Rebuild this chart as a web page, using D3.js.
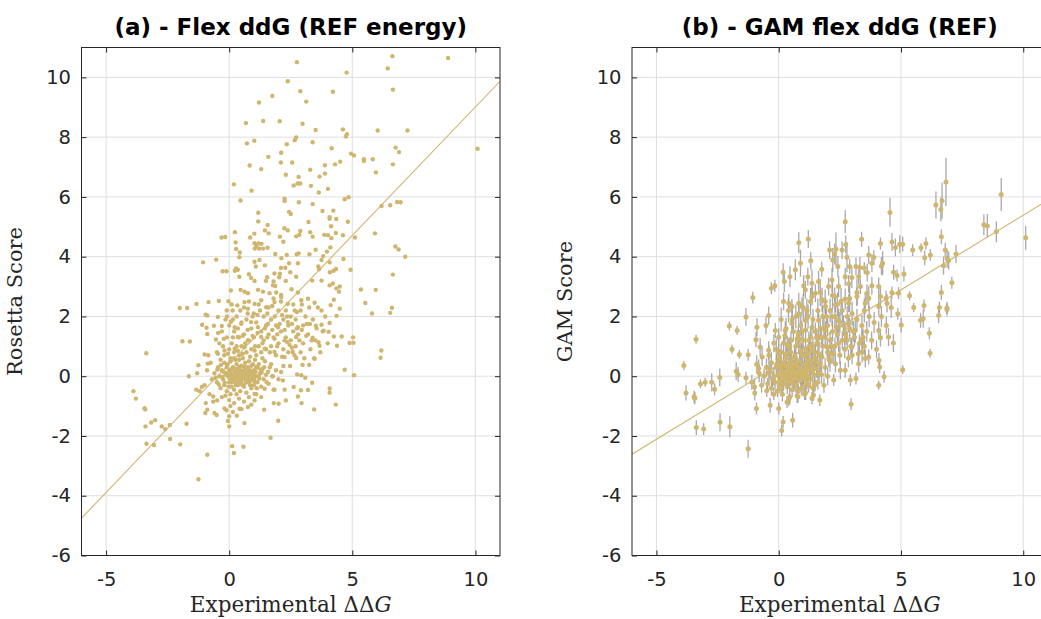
<!DOCTYPE html>
<html>
<head>
<meta charset="utf-8">
<script src="https://cdn.jsdelivr.net/npm/d3@7"></script>
<style>
  html, body { margin: 0; padding: 0; background: #fff; }
  svg { display: block; }
</style>
</head>
<body>
<svg id="fig" width="1041" height="619"></svg>
<script>
// ---- data -----------------------------------------------------------------
const xTicks = [-5, 0, 5, 10];
const yTicks = [-6, -4, -2, 0, 2, 4, 6, 8, 10];
const titles = ["(a) - Flex ddG (REF energy)", "(b) - GAM flex ddG (REF)"];
const yLabels = ["Rosetta Score", "GAM Score"];

// linear fits: [slope, intercept]
const fitA = [0.86, 0.41];
const fitB = [0.50, 0.39];

// panel (a): experimental ddG vs Rosetta score
const pointsA = [
[2.75,10.51],[6.63,10.71],[8.89,10.65],[6.44,10.30],[4.77,10.16],[2.38,9.87],[6.65,9.59],[2.89,9.54],[4.21,9.52],[1.75,9.38],
[1.21,9.16],[3.13,9.19],[1.38,8.54],[2.05,8.53],[0.68,8.47],[2.98,8.45],[3.51,8.24],[4.62,8.26],[6.03,8.22],[7.24,8.22],
[4.78,8.10],[4.74,8.02],[2.72,7.99],[2.66,7.90],[1.02,7.88],[0.72,7.79],[3.39,7.83],[2.34,7.76],[4.16,7.63],[6.76,7.65],
[6.90,7.50],[10.09,7.61],[2.11,7.48],[1.59,7.34],[4.95,7.45],[5.07,7.39],[5.47,7.26],[5.47,7.20],[5.83,7.26],[2.10,7.15],
[2.56,7.15],[3.89,7.06],[4.30,7.09],[4.51,7.18],[0.83,7.05],[1.30,6.93],[6.65,7.09],[3.29,6.91],[5.96,6.82],[2.30,6.74],
[3.89,6.78],[3.67,6.68],[2.82,6.67],[0.19,6.42],[2.62,6.38],[2.78,6.45],[2.89,6.45],[3.32,6.37],[4.01,6.27],[3.64,6.15],
[0.91,6.21],[4.69,5.92],[4.85,5.99],[2.25,5.94],[2.25,5.86],[0.46,5.88],[2.83,5.82],[3.39,5.76],[6.19,5.70],[6.54,5.72],
[6.82,5.83],[6.96,5.82],[2.43,5.50],[2.50,5.43],[3.79,5.53],[4.23,5.54],[1.18,5.47],[4.08,5.32],[4.08,5.27],[4.35,5.26],
[3.22,5.16],[4.82,5.17],[1.18,5.18],[1.56,5.06],[4.14,5.02],[2.24,4.95],[2.38,4.88],[1.45,4.88],[2.89,4.86],[1.02,4.77],
[1.60,4.78],[3.29,4.82],[0.23,4.82],[2.85,4.73],[2.72,4.68],[3.39,4.67],[3.86,4.73],[4.01,4.72],[4.15,4.62],[4.33,4.79],
[4.62,4.72],[5.11,4.64],[5.92,4.78],[2.06,4.67],[0.85,4.64],[-0.31,4.64],[-0.16,4.66],[0.26,4.48],[2.20,4.50],[1.03,4.45],
[1.10,4.36],[1.19,4.44],[1.31,4.43],[1.04,4.27],[1.22,4.27],[1.38,4.27],[1.56,4.30],[0.28,4.26],[0.43,4.14],[6.75,4.34],
[6.88,4.24],[7.15,4.00],[3.51,4.23],[3.97,4.17],[4.11,4.31],[2.74,4.08],[2.82,4.11],[3.26,4.08],[1.87,4.09],[2.34,4.06],
[2.12,3.95],[0.41,3.98],[3.82,4.02],[3.75,3.89],[4.64,3.92],[1.03,3.83],[1.23,3.89],[-1.06,3.81],[-0.53,3.90],[2.79,3.78],
[2.43,3.78],[4.08,3.81],[1.45,3.71],[1.08,3.67],[2.10,3.62],[2.28,3.63],[3.62,3.67],[3.65,3.58],[0.28,3.61],[0.23,3.53],
[0.35,3.56],[-0.27,3.51],[-0.11,3.51],[1.84,3.44],[2.06,3.43],[2.48,3.48],[0.80,3.41],[4.09,3.48],[4.24,3.53],[4.34,3.59],
[4.93,3.56],[6.65,3.40],[1.54,3.31],[2.03,3.31],[2.72,3.33],[0.41,3.33],[0.89,3.29],[1.03,3.19],[1.49,3.19],[1.80,3.17],
[2.30,3.19],[3.37,3.20],[3.75,3.20],[1.78,3.04],[1.87,3.02],[4.08,3.04],[4.21,3.10],[2.53,2.91],[4.35,2.94],[4.49,3.00],
[4.46,2.83],[5.35,2.90],[5.95,2.89],[0.07,2.87],[0.46,2.89],[0.62,2.83],[0.76,2.78],[1.17,2.89],[1.37,2.83],[1.64,2.78],
[1.91,2.80],[2.11,2.72],[2.79,2.80],
[-2.01,2.28],[-1.71,2.28],[-1.33,2.42],[-0.84,2.48],[-0.42,2.52],[-0.03,2.51],[-0.96,2.06],[-0.89,2.03],[-0.46,1.98],[-0.09,2.00],
[0.14,2.20],[0.33,2.37],[0.62,2.48],[0.76,2.26],[1.03,2.42],[1.30,2.54],[1.50,2.31],[1.84,2.48],[2.11,2.65],[2.38,2.42],
[2.66,2.20],[2.93,2.54],[3.20,2.59],[3.47,2.46],[3.75,2.20],[4.12,2.38],[4.25,2.56],[4.49,2.26],[5.53,2.45],[5.80,2.10],
[6.54,2.12],[6.61,2.29],[-1.10,1.72],[-0.92,1.62],[-0.62,1.69],[-0.30,1.68],[0.07,1.82],[0.22,1.64],[0.49,1.75],[0.89,1.81],
[1.17,1.64],[1.57,1.75],[1.98,1.64],[2.38,1.81],[2.79,1.64],[3.28,1.75],[3.52,1.69],[3.75,1.72],[4.08,1.78],[4.36,2.02],
[-0.89,1.41],[-0.54,1.23],[-0.22,1.25],[0.35,1.31],[0.76,1.20],[1.30,1.31],[1.84,1.25],[2.25,1.20],[2.72,1.31],[3.13,1.35],
[3.39,1.29],[3.63,1.14],[3.67,1.02],[3.84,1.52],[4.04,1.49],[4.25,1.33],[4.57,1.33],[4.38,1.02],[4.89,1.11],[5.03,1.30],
[5.05,1.12],[-1.90,1.17],[-1.60,1.16],[6.18,0.86],[6.15,0.62],[-3.37,0.77],[-1.00,0.73],[-1.25,0.37],[-0.87,0.42],[-0.46,0.75],
[-0.19,0.86],[0.22,0.92],[0.62,0.97],[1.03,0.86],[1.44,0.92],[1.84,0.81],[2.25,0.64],[2.58,0.81],[2.72,0.61],[2.20,0.34],
[2.47,0.34],[2.98,0.38],[3.25,0.38],[3.47,0.58],[2.11,0.14],[2.76,0.06],[2.93,0.03],[3.09,-0.05],[3.37,-0.22],[1.77,0.00],
[2.18,-0.14],[4.69,0.22],[5.07,0.03],[-1.64,0.00],[-1.34,-0.45],[-1.11,-0.36],[-3.89,-0.50],[-3.79,-0.75],[-3.44,-1.07],[-3.41,-1.11],
[-3.40,-1.68],[-3.17,-1.55],[-3.01,-1.47],[-2.74,-1.68],[-2.60,-1.77],[-2.41,-1.63],[-2.40,-2.10],[-3.36,-2.26],[-3.06,-2.30],[-1.99,-2.28],
[-1.73,-1.59],[-0.89,-2.63],[-1.25,-3.45],[-0.97,-1.23],[-0.89,-1.12],[-0.60,-1.23],[-0.51,-1.30],[-0.65,-0.68],[-0.49,-0.81],[-0.19,-1.08],
[-0.11,-1.14],[0.00,-1.34],[0.00,-1.68],[0.31,-1.32],[0.42,-1.09],[0.62,-1.57],[0.12,-2.34],[0.19,-2.57],[0.58,-2.36],[1.68,-2.06],
[1.99,-1.49],[1.42,-1.12],[1.81,-0.90],[2.01,-0.92],[2.30,-0.81],[2.62,-0.36],[2.91,-0.47],[2.94,-0.90],[3.45,-1.11],[3.20,-0.46],
[4.08,-0.41],[4.08,-0.55],[4.33,-0.95],[2.79,-0.68],[1.03,-0.59],[0.76,-1.03],[1.03,-0.81],[1.44,-0.42],[1.84,-0.45],[2.25,-0.45],
// dense core near the origin
[-0.6,0.1],[-0.5,-0.2],[-0.45,0.3],[-0.4,0.0],[-0.35,-0.4],[-0.3,0.2],[-0.25,-0.1],[-0.2,0.45],[-0.2,-0.3],[-0.15,0.1],
[-0.1,-0.5],[-0.1,0.3],[-0.05,0.0],[0,-0.2],[0,0.2],[0.05,0.5],[0.05,-0.6],[0.1,0.05],[0.1,-0.35],[0.15,0.3],
[0.15,-0.1],[0.2,0.6],[0.2,-0.45],[0.25,0.15],[0.25,-0.2],[0.3,0.4],[0.3,0.0],[0.35,-0.3],[0.35,0.25],[0.4,-0.05],
[0.4,0.55],[0.45,-0.5],[0.45,0.1],[0.5,0.35],[0.5,-0.15],[0.55,0.0],[0.55,0.6],[0.6,-0.35],[0.6,0.2],[0.65,0.45],
[0.65,-0.1],[0.7,0.05],[0.7,-0.55],[0.75,0.3],[0.8,-0.2],[0.8,0.5],[0.85,0.1],[0.9,-0.4],[0.9,0.35],[0.95,-0.05],
[1.0,0.2],[1.0,-0.3],[1.05,0.55],[1.1,0.0],[1.15,-0.2],[1.2,0.4],[1.25,0.1],[1.3,-0.35],[1.35,0.25],[1.4,-0.1],
[1.45,0.5],[1.5,0.05],[1.6,-0.25],[1.65,0.3],[1.75,0.0],[1.8,-0.45],[1.9,0.2],[2.0,-0.1],
[-0.55,-0.05],[-0.48,0.22],[-0.42,-0.28],[-0.33,0.38],[-0.28,-0.02],[-0.22,0.15],[-0.18,-0.22],[-0.12,0.05],[-0.08,0.4],[-0.03,-0.35],
[0.02,0.1],[0.07,-0.12],[0.12,0.25],[0.17,-0.05],[0.22,0.12],[0.27,-0.3],[0.32,0.18],[0.37,-0.08],[0.42,0.3],[0.47,-0.25],
[0.52,0.15],[0.57,-0.05],[0.62,0.32],[0.67,-0.22],[0.72,0.12],[0.77,-0.08],[0.82,0.22],[0.87,-0.15],[0.92,0.08],[0.97,0.4],
[1.02,-0.12],[1.07,0.15],[1.12,-0.4],[1.17,0.28],[1.22,-0.08],[1.32,0.12],[1.42,0.3],[1.52,-0.2],[1.58,0.15],[1.7,0.4],
[-0.05,0.08],[0.0,-0.05],[0.05,0.15],[0.1,-0.2],[0.15,0.0],[0.2,0.25],[0.25,-0.08],[0.3,0.1],[0.35,0.05],[0.4,-0.18],
[0.45,0.2],[0.5,0.0],[0.55,-0.3],[0.6,0.08],[0.65,0.2],[0.7,-0.12],[0.75,0.02],[0.8,0.15],[0.85,-0.3],[0.9,0.0],
[0.95,0.18],[1.0,0.05],[1.05,-0.2],[1.1,0.3],[1.2,0.0],[1.3,0.2],
[-0.3,-0.7],[0.0,-0.8],[0.2,-0.9],[0.4,-0.75],[0.6,-0.85],[0.8,-0.7],[1.1,-0.6],[0.05,-1.0],[0.3,-0.6],[-0.15,-0.65],
[0.9,-0.95],[1.3,-0.7],[0.5,-1.1],[0.15,-1.2],[-0.05,-1.5],
[-1.0,-0.3],[-0.8,-0.6],[-0.9,0.2],[-0.7,-0.1],[-0.75,0.45],[-0.95,-0.9],[-1.2,-0.5],[-0.65,-0.85],[-0.85,0.7],[-1.3,0.1],
// band along the fit
[-0.5,0.8],[-0.4,1.1],[-0.3,1.5],[-0.2,0.7],[-0.1,1.3],[-0.1,2.2],[0.0,0.9],[0.0,1.7],[0.1,1.1],[0.1,2.4],
[0.2,0.8],[0.2,1.5],[0.3,1.0],[0.3,2.0],[0.4,1.3],[0.4,0.7],[0.5,1.8],[0.5,1.0],[0.6,2.3],[0.6,1.4],
[0.7,0.8],[0.7,1.9],[0.8,1.2],[0.8,2.5],[0.9,1.6],[0.9,0.9],[1.0,2.1],[1.0,1.3],[1.1,0.7],[1.1,1.8],
[1.2,1.0],[1.2,2.4],[1.3,1.5],[1.3,0.8],[1.4,2.0],[1.4,1.2],[1.5,1.7],[1.5,0.9],[1.6,2.3],[1.6,1.4],
[1.7,1.0],[1.7,1.9],[1.8,1.3],[1.8,2.6],[1.9,1.7],[1.9,0.7],[2.0,2.2],[2.0,1.1],[2.1,1.5],[2.1,2.5],
[2.2,1.9],[2.2,0.9],[2.3,1.3],[2.3,2.2],[2.4,1.7],[2.4,0.8],[2.5,2.0],[2.5,1.2],[2.6,1.5],[2.6,2.4],
[2.7,1.0],[2.7,1.9],[2.8,1.4],[2.9,2.2],[2.9,0.8],[3.0,1.7],[3.0,1.1],[3.1,2.0],[3.2,1.4],[3.3,0.9],
[3.4,1.9],[3.5,1.2],[3.6,2.3],[3.7,0.8],[3.8,1.5],[3.9,2.0],[4.0,1.1],
[0.05,0.6],[0.15,1.9],[0.25,0.55],[0.35,1.6],[0.45,2.2],[0.55,0.75],[0.65,1.1],[0.75,1.55],[0.85,0.65],[0.95,2.0],
[1.05,1.0],[1.15,1.45],[1.25,2.2],[1.35,0.6],[1.45,1.6],[1.55,2.1],[1.65,0.8],[1.75,1.55],[1.85,2.0],[1.95,1.0],
[2.05,1.75],[2.15,0.65],[2.25,1.55],[2.35,2.0],[2.45,1.05],[2.55,1.75],[2.65,0.7],[2.75,2.15],[2.85,1.2],[2.95,1.55],
[3.05,0.6],[3.15,1.75],[3.25,2.3],[3.35,1.2],[3.45,0.6],[3.55,1.6],[-0.35,0.55],[-0.25,1.0],[-0.15,1.9],[-0.45,1.45],
[-0.05,0.75],[0.15,1.3],[0.35,0.85],[0.55,1.35],[0.75,2.1],[0.95,1.35],[1.15,2.05],[1.35,1.1],[1.55,1.3],[1.75,2.35],
[1.95,1.4],[2.15,2.05],[2.35,1.15],[2.55,0.95],[2.75,1.6],[2.95,2.4]
];

// panel (b): experimental ddG vs GAM score, with error half-widths
const pointsB = [
[6.84,6.50,0.80],[9.10,6.08,0.55],[6.43,5.73,0.45],[6.68,5.87,0.60],[6.63,5.58,0.40],[4.55,5.48,0.48],[2.72,5.17,0.38],[8.39,5.07,0.35],[8.53,5.03,0.40],[8.90,4.83,0.35],
[10.10,4.63,0.40],[0.82,4.47,0.35],[1.21,4.59,0.30],[3.39,4.58,0.25],[4.16,4.44,0.20],[4.63,4.49,0.30],[4.95,4.42,0.30],[5.07,4.42,0.25],[4.77,4.31,0.30],[5.48,4.22,0.20],
[5.82,4.30,0.15],[6.02,4.44,0.20],[5.97,3.96,0.25],[6.20,4.06,0.20],[6.65,4.67,0.25],[6.81,4.22,0.25],[7.25,4.09,0.30],[6.89,3.93,0.30],[6.95,3.87,0.30],[6.74,3.70,0.30],
[7.08,3.13,0.20],[6.65,2.80,0.25],[6.57,2.30,0.20],[6.88,2.28,0.20],[5.94,2.37,0.20],[5.52,2.30,0.15],[5.35,2.69,0.15],[5.12,3.42,0.25],[4.84,3.37,0.20],[4.70,3.48,0.25],
[4.90,2.78,0.20],[4.63,2.80,0.20],[-1.06,2.63,0.20],[-0.30,2.94,0.20],[-0.16,3.03,0.20],[0.18,3.48,0.30],[0.23,3.17,0.35],[0.46,3.33,0.35],[0.68,3.56,0.35],[0.89,3.78,0.45],
[1.31,3.86,0.30],[1.19,3.33,0.30],[1.76,3.58,0.25],[2.08,4.22,0.30],[2.29,4.09,0.35],[2.34,4.26,0.55],[2.59,4.22,0.30],[2.74,4.41,0.30],[2.79,3.98,0.50],[2.21,3.89,0.40],
[2.42,3.67,0.35],[2.90,3.67,0.25],[3.16,3.67,0.30],[3.32,3.64,0.35],[3.50,3.62,0.20],[3.68,4.06,0.30],[3.89,3.97,0.25],[3.81,3.78,0.30],[4.25,3.78,0.40],[4.20,3.69,0.30],
[3.62,3.47,0.30],[3.27,3.33,0.25],[2.99,3.30,0.35],[2.72,3.33,0.30],[2.18,3.22,0.40],[2.04,3.00,0.30],[2.45,3.00,0.35],[2.86,3.09,0.30],[3.34,3.00,0.25],[3.81,3.03,0.30],
[4.09,3.00,0.30],[4.16,2.67,0.30],[4.39,2.61,0.25],[3.61,2.78,0.30],[3.68,2.61,0.40],[3.20,2.67,0.30],[2.72,2.58,0.35],[2.29,2.67,0.30],[1.77,2.56,0.40],[1.36,2.67,0.30],
[1.02,3.03,0.35],[1.09,2.89,0.30],[1.36,3.11,0.45],[1.50,2.78,0.30],[1.63,3.17,0.35],[0.41,2.44,0.30],[0.54,2.33,0.25],[0.20,2.50,0.30],[0.82,2.44,0.35],[0.95,2.33,0.30],
[1.91,2.33,0.30],[2.32,2.39,0.25],[2.86,2.44,0.30],[3.54,2.44,0.35],[4.09,2.33,0.30],[4.43,2.44,0.30],
[-1.34,1.98,0.30],[-2.02,1.68,0.15],[-1.70,1.53,0.15],[-3.38,1.24,0.15],[-1.91,0.90,0.15],[-1.61,0.73,0.15],[-1.25,0.72,0.20],[-3.88,0.36,0.15],[-1.74,0.17,0.30],[-1.66,0.06,0.25],
[-1.34,-0.05,0.20],[-2.41,-0.04,0.30],[-2.74,-0.20,0.30],[-3.01,-0.20,0.15],[-3.20,-0.26,0.15],[-2.62,-0.44,0.20],[-3.79,-0.56,0.25],[-3.46,-0.69,0.20],[-3.43,-0.74,0.20],[-3.37,-1.72,0.25],
[-3.07,-1.77,0.20],[-2.40,-1.54,0.30],[-2.00,-1.69,0.35],[-1.25,-2.43,0.30],[-0.99,-0.36,0.30],[-0.98,-0.56,0.25],[-0.91,-1.08,0.20],[-0.49,-0.49,0.20],[-0.35,-0.97,0.25],[0.00,-1.08,0.20],
[0.12,-1.82,0.20],[0.18,-1.53,0.20],[0.57,-1.47,0.25],[0.34,-0.86,0.20],[0.41,-0.80,0.20],[0.79,-0.69,0.20],[1.06,-0.60,0.20],[1.36,-0.74,0.20],[1.42,-0.63,0.20],[1.68,-0.80,0.20],
[1.47,-0.30,0.20],[2.25,-0.13,0.20],[2.93,-0.13,0.20],[3.16,-0.08,0.20],[2.96,-0.94,0.20],[4.09,-0.30,0.15],[4.31,-0.02,0.20],[4.13,0.31,0.20],[4.10,0.53,0.25],[5.07,0.22,0.15],
[6.19,0.77,0.15],[6.16,1.44,0.20],[5.80,1.87,0.25],[5.91,1.92,0.30],[6.54,2.03,0.25],[6.88,2.23,0.20],[5.01,1.71,0.25],[4.87,2.09,0.20],[4.69,1.11,0.30],[4.49,1.31,0.30],
[4.16,1.29,0.30],[4.09,1.53,0.30],[3.68,0.64,0.25],[3.54,0.59,0.30],[3.41,0.81,0.35],[3.27,0.42,0.30],[3.41,1.22,0.30],[3.13,1.53,0.40],[2.99,0.98,0.30],[2.72,0.20,0.25],
[2.52,0.20,0.30],[2.32,0.42,0.30],[2.18,0.76,0.35],[1.98,0.98,0.30],[1.77,0.64,0.25],[2.86,1.76,0.30],[2.45,1.87,0.40],[2.18,1.98,0.30],[1.91,1.53,0.30],[1.63,1.87,0.35],
[1.36,1.64,0.30],[1.09,1.87,0.30],[0.82,2.09,0.40],[0.54,1.76,0.30],[0.27,1.53,0.30],[-0.14,1.53,0.25],[-0.41,2.03,0.30],[-0.52,1.70,0.30],[-0.89,1.64,0.30],[-0.93,1.22,0.25],
[-0.76,0.98,0.30],[-0.68,0.64,0.30],[-0.82,0.26,0.30],[-0.41,0.87,0.30],[0.00,0.76,0.30],[0.41,0.98,0.30],[0.82,1.09,0.35],[1.23,1.20,0.30],[1.63,1.31,0.30],[0.95,0.76,0.30],
[1.36,0.53,0.30],
// dense core near the origin
[-0.6,0.0,0.25],[-0.5,0.3,0.3],[-0.45,-0.25,0.2],[-0.4,0.1,0.3],[-0.3,-0.4,0.25],[-0.3,0.45,0.35],[-0.2,0.0,0.3],[-0.15,-0.2,0.25],[-0.1,0.3,0.3],[-0.05,-0.5,0.2],
[0.0,0.1,0.3],[0.0,0.55,0.35],[0.05,-0.15,0.25],[0.1,0.25,0.3],[0.1,-0.4,0.25],[0.15,0.05,0.3],[0.2,0.45,0.35],[0.2,-0.25,0.25],[0.25,0.15,0.3],[0.3,-0.05,0.3],
[0.3,0.65,0.4],[0.35,-0.35,0.25],[0.4,0.3,0.3],[0.4,0.0,0.3],[0.45,-0.2,0.25],[0.5,0.5,0.35],[0.5,0.1,0.3],[0.55,-0.45,0.25],[0.6,0.25,0.3],[0.6,-0.1,0.3],
[0.65,0.6,0.4],[0.7,0.0,0.3],[0.7,-0.3,0.25],[0.75,0.35,0.3],[0.8,0.1,0.3],[0.8,-0.5,0.25],[0.85,0.5,0.35],[0.9,-0.15,0.3],[0.9,0.2,0.3],[0.95,0.7,0.4],
[1.0,0.0,0.3],[1.0,-0.35,0.25],[1.05,0.4,0.35],[1.1,0.1,0.3],[1.15,-0.2,0.25],[1.2,0.55,0.35],[1.25,0.2,0.3],[1.3,-0.1,0.3],[1.35,0.35,0.3],[1.4,-0.4,0.25],
[1.45,0.05,0.3],[1.5,0.6,0.4],[1.55,0.25,0.3],[1.6,-0.2,0.25],[1.7,0.4,0.3],[1.75,0.05,0.3],[1.85,-0.3,0.25],[1.9,0.3,0.3],[2.0,0.0,0.3],[2.1,0.5,0.35],
[-0.35,0.2,0.3],[-0.25,-0.1,0.25],[-0.08,0.4,0.35],[0.03,-0.3,0.25],[0.12,0.12,0.3],[0.18,-0.08,0.3],[0.27,0.35,0.35],[0.33,0.18,0.3],[0.38,-0.18,0.25],[0.43,0.45,0.35],
[0.48,-0.02,0.3],[0.53,0.2,0.3],[0.58,0.05,0.3],[0.63,-0.25,0.25],[0.68,0.15,0.3],[0.73,0.45,0.35],[0.78,-0.12,0.3],[0.83,0.28,0.3],[0.88,0.05,0.3],[0.93,-0.4,0.25],
[0.98,0.22,0.3],[1.03,0.12,0.3],[1.08,-0.08,0.3],[1.13,0.35,0.35],[1.18,0.0,0.3],[1.28,0.45,0.35],[1.38,0.15,0.3],[1.48,-0.25,0.25],[1.58,0.45,0.35],[1.65,0.1,0.3],
[-0.02,0.02,0.3],[0.08,0.35,0.3],[0.22,0.0,0.3],[0.35,0.08,0.3],[0.47,0.3,0.3],[0.62,0.4,0.35],[0.72,-0.05,0.3],[0.85,0.15,0.3],[0.97,-0.05,0.3],[1.12,0.25,0.3],
[1.22,-0.3,0.25],[1.42,0.3,0.3],[-0.2,-0.6,0.2],[0.15,-0.6,0.25],[0.45,-0.7,0.25],[0.75,-0.65,0.25],[1.1,-0.55,0.25],[-0.7,-0.3,0.25],[-0.8,0.1,0.3],[-1.1,-0.2,0.25],
[-0.9,0.4,0.3],
// band along the fit
[-0.4,0.7,0.3],[-0.2,1.1,0.3],[-0.1,0.9,0.35],[0.0,1.3,0.3],[0.1,0.8,0.3],[0.1,1.9,0.4],[0.2,1.1,0.3],[0.3,0.75,0.3],[0.3,1.6,0.35],[0.4,2.2,0.4],
[0.5,1.2,0.3],[0.5,0.8,0.3],[0.6,1.5,0.35],[0.7,1.0,0.3],[0.7,2.0,0.4],[0.8,1.4,0.3],[0.9,0.85,0.3],[0.9,1.7,0.35],[1.0,1.2,0.3],[1.0,2.3,0.45],
[1.1,0.9,0.3],[1.1,1.55,0.35],[1.2,2.0,0.4],[1.2,0.75,0.3],[1.3,1.3,0.3],[1.3,2.5,0.45],[1.4,1.0,0.3],[1.4,1.9,0.35],[1.5,1.5,0.3],[1.5,0.8,0.3],
[1.6,2.2,0.4],[1.6,1.1,0.3],[1.7,1.6,0.35],[1.7,2.8,0.45],[1.8,1.0,0.3],[1.8,2.0,0.35],[1.9,1.3,0.3],[1.9,2.5,0.4],[2.0,0.8,0.3],[2.0,1.7,0.35],
[2.1,2.2,0.4],[2.1,1.2,0.3],[2.2,1.5,0.35],[2.2,2.7,0.45],[2.3,1.0,0.3],[2.3,2.0,0.35],[2.4,1.4,0.3],[2.4,2.4,0.4],[2.5,0.7,0.3],[2.5,1.8,0.35],
[2.6,1.2,0.3],[2.6,2.2,0.4],[2.7,1.5,0.35],[2.7,0.9,0.3],[2.8,2.0,0.35],[2.8,1.2,0.3],[2.9,2.6,0.45],[2.9,1.6,0.35],[3.0,0.7,0.3],[3.0,2.1,0.4],
[3.1,1.3,0.3],[3.2,1.9,0.35],[3.2,2.8,0.45],[3.3,1.1,0.3],[3.4,1.7,0.35],[3.5,2.2,0.4],[3.5,1.0,0.3],[3.6,1.5,0.35],[3.7,2.0,0.35],[3.8,1.2,0.3],
[3.9,1.8,0.35],[4.0,0.9,0.3],[4.2,2.0,0.35],[4.4,1.7,0.3],[4.6,2.3,0.35],
[0.05,0.6,0.3],[0.25,1.35,0.3],[0.45,1.0,0.3],[0.65,0.65,0.3],[0.85,1.25,0.3],[1.05,0.7,0.3],[1.25,1.0,0.3],[1.45,0.6,0.3],[1.65,0.75,0.3],[1.85,1.6,0.35],
[2.05,0.6,0.3],[2.25,0.75,0.3],[2.45,1.1,0.3],[2.65,1.7,0.35],[2.85,0.6,0.3],[3.05,1.5,0.35],[3.25,0.75,0.3],[3.45,1.3,0.3],[0.35,1.05,0.3],[0.55,1.9,0.4],
[0.75,1.25,0.3],[0.95,1.5,0.35],[1.15,2.2,0.4],[1.35,0.85,0.3],[1.55,1.3,0.3],[1.75,1.3,0.3],[1.95,2.0,0.4],[2.15,1.0,0.3],[2.35,1.65,0.35],[2.55,2.5,0.45],
[2.75,1.35,0.3],[2.95,1.0,0.3]
];

// ---- drawing --------------------------------------------------------------
const svg = d3.select("#fig");
const dotColor = "#cfb56e";
const axisColor = "#262626";
const gridColor = "#dfdfdf";
const xDomain = [-6, 11];
const yDomain = [-6, 11];

const panels = [
  { left: 81.5, right: 500, title: titles[0], ylab: yLabels[0], pts: pointsA, fit: fitA, r: 2.2, bars: false, yLabX: 22 },
  { left: 632, right: 1047.7, title: titles[1], ylab: yLabels[1], pts: pointsB, fit: fitB, r: 2.5, bars: true, yLabX: 572 }
];
const plotTop = 47.5, plotBottom = 555.5;
const tickFont = 19.5;

panels.forEach((p, i) => {
  const x = d3.scaleLinear().domain(xDomain).range([p.left, p.right]);
  const y = d3.scaleLinear().domain(yDomain).range([plotBottom, plotTop]);
  const g = svg.append("g");

  const clipId = "clip" + i;
  svg.append("clipPath").attr("id", clipId)
    .append("rect").attr("x", p.left).attr("y", plotTop)
    .attr("width", p.right - p.left).attr("height", plotBottom - plotTop);

  // grid
  const grid = g.append("g").attr("stroke", gridColor).attr("stroke-width", 1);
  grid.selectAll(".gx").data(xTicks).join("line")
    .attr("x1", d => x(d)).attr("x2", d => x(d)).attr("y1", plotTop).attr("y2", plotBottom);
  grid.selectAll(".gy").data(yTicks).join("line")
    .attr("x1", p.left).attr("x2", p.right).attr("y1", d => y(d)).attr("y2", d => y(d));

  const plot = g.append("g").attr("clip-path", `url(#${clipId})`);

  // error bars
  if (p.bars) {
    plot.append("g").attr("stroke", "#9a9a9a").attr("stroke-width", 1.3).attr("stroke-opacity", 0.85)
      .selectAll("line").data(p.pts).join("line")
      .attr("x1", d => x(d[0])).attr("x2", d => x(d[0]))
      .attr("y1", d => y(d[1] - d[2])).attr("y2", d => y(d[1] + d[2]));
  }

  // points
  plot.append("g").attr("fill", dotColor)
    .selectAll("circle").data(p.pts).join("circle")
    .attr("cx", d => x(d[0])).attr("cy", d => y(d[1])).attr("r", p.r);

  // fit line
  plot.append("line")
    .attr("x1", x(xDomain[0])).attr("y1", y(p.fit[0] * xDomain[0] + p.fit[1]))
    .attr("x2", x(xDomain[1])).attr("y2", y(p.fit[0] * xDomain[1] + p.fit[1]))
    .attr("stroke", dotColor).attr("stroke-width", 1.1);

  // axes: bottom/left with labels, top/right mirror ticks only
  const tickLen = 5;
  const axB = d3.axisBottom(x).tickValues(xTicks).tickSize(-tickLen).tickPadding(16.5).tickFormat(d3.format("d"));
  const axT = d3.axisTop(x).tickValues(xTicks).tickSize(-tickLen).tickFormat("");
  const axL = d3.axisLeft(y).tickValues(yTicks).tickSize(-tickLen).tickPadding(10.5).tickFormat(d3.format("d"));
  const axR = d3.axisRight(y).tickValues(yTicks).tickSize(-tickLen).tickFormat("");

  const style = sel => {
    sel.select(".domain").remove();
    sel.selectAll(".tick line").attr("stroke", axisColor).attr("stroke-width", 1);
    sel.selectAll(".tick text").attr("fill", axisColor)
      .style("font-family", "'DejaVu Sans', sans-serif").style("font-size", tickFont + "px")
      .text(function () { return this.textContent.replace("\u2212", "-"); });
  };
  g.append("g").attr("transform", `translate(0,${plotBottom})`).call(axB).call(style);
  g.append("g").attr("transform", `translate(0,${plotTop})`).call(axT).call(style);
  g.append("g").attr("transform", `translate(${p.left},0)`).call(axL).call(style);
  g.append("g").attr("transform", `translate(${p.right},0)`).call(axR).call(style);

  // box
  g.append("rect").attr("x", p.left).attr("y", plotTop)
    .attr("width", p.right - p.left).attr("height", plotBottom - plotTop)
    .attr("fill", "none").attr("stroke", axisColor).attr("stroke-width", 1);

  const cx = (p.left + p.right) / 2;
  // title
  g.append("text").attr("x", cx).attr("y", 35).attr("text-anchor", "middle")
    .style("font-family", "'DejaVu Sans', sans-serif").style("font-weight", "bold")
    .style("font-size", "23px").attr("fill", "#000").text(p.title);

  // x label
  const xl = g.append("text").attr("x", cx).attr("y", 612).attr("text-anchor", "middle")
    .style("font-family", "'DejaVu Serif', serif").style("font-size", "21.5px").attr("fill", axisColor);
  xl.append("tspan").text("Experimental \u0394\u0394");
  xl.append("tspan").style("font-style", "italic").text("G");

  // y label
  g.append("text").attr("transform", `translate(${p.yLabX},${(plotTop + plotBottom) / 2}) rotate(-90)`)
    .attr("text-anchor", "middle")
    .style("font-family", "'DejaVu Serif', serif").style("font-size", "21px").attr("fill", axisColor)
    .text(p.ylab);
});
</script>
</body>
</html>
